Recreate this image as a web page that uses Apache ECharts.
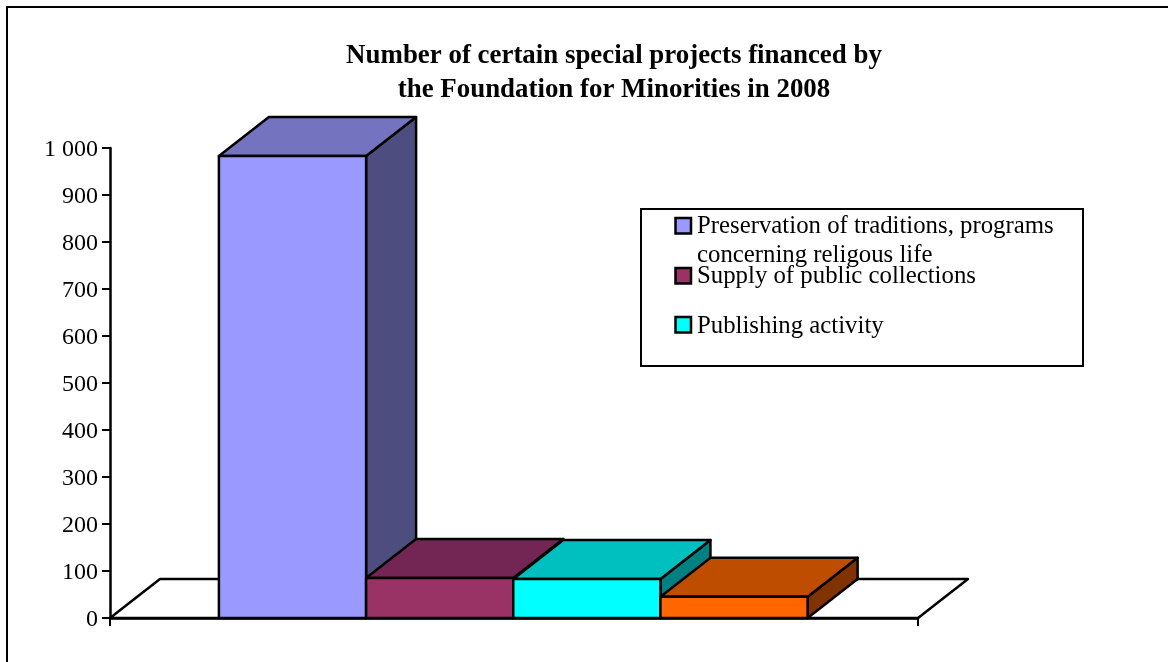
<!DOCTYPE html>
<html>
<head>
<meta charset="utf-8">
<style>html,body{margin:0;padding:0;background:#fff}#c{width:1168px;height:662px}</style>
<script src="https://cdn.jsdelivr.net/npm/echarts@6/dist/echarts.min.js"></script>
</head>
<body>
<div id="c"></div>
<script>
var titleLines = ['Number of certain special projects financed by', 'the Foundation for Minorities in 2008'];
var categories = ['Preservation of traditions, programs\nconcerning religous life', 'Supply of public collections', 'Publishing activity', 'Other'];
var values = [983, 85, 83, 45];
var frontColors = ['#9999FF', '#993366', '#00FFFF', '#FF6600'];
var topColors = ['#7373BF', '#732653', '#00BFBF', '#BF4D00'];
var sideColors = ['#4D4D80', '#4D1933', '#008080', '#803300'];
var yTickLabels = {1000: '1 000'};

var DEPTH_X = 50, DEPTH_Y = -39, START = 0.74, X_MAX = 5.49, SERIF = '"Liberation Serif","Times New Roman",serif';
var lineStyle = {stroke: '#000', lineWidth: 2.5, lineJoin: 'round'};

function poly(points, fill) {
  return {type: 'polygon', shape: {points: points}, style: Object.assign({fill: fill}, lineStyle)};
}

function renderFloor(params, api) {
  var a = api.coord([0, 0]), b = api.coord([X_MAX, 0]);
  return poly([a, b, [b[0] + DEPTH_X, b[1] + DEPTH_Y], [a[0] + DEPTH_X, a[1] + DEPTH_Y]], '#fff');
}

function renderBar(params, api) {
  var i = api.value(0), v = api.value(1);
  var p0 = api.coord([START + i, 0]), p1 = api.coord([START + i + 1, 0]);
  var t0 = api.coord([START + i, v]), t1 = api.coord([START + i + 1, v]);
  var d = function (p) { return [p[0] + DEPTH_X, p[1] + DEPTH_Y]; };
  return {type: 'group', children: [
    poly([p1, d(p1), d(t1), t1], sideColors[i]),
    poly([t0, t1, d(t1), d(t0)], topColors[i]),
    poly([p0, p1, t1, t0], frontColors[i])
  ]};
}

var series = [{type: 'custom', name: 'Floor', silent: true, renderItem: renderFloor, data: [[0, 0]], z: 1, clip: false}];
categories.forEach(function (name, i) {
  series.push({type: 'custom', name: name, silent: true, renderItem: renderBar, data: [[i, values[i]]], z: 2, clip: false,
    encode: {x: 0, y: 1}});
});

var legendGraphics = [
  {type: 'rect', shape: {x: 641, y: 209, width: 442, height: 157}, style: {fill: '#fff', stroke: '#000', lineWidth: 2}, z: 10}
];
var swatchY = [218, 268, 317], legendTextY = [226, 276, 326];
[0, 1, 2].forEach(function (i) {
  legendGraphics.push({type: 'rect', shape: {x: 675.5, y: swatchY[i], width: 15.5, height: 15.5},
    style: {fill: frontColors[i], stroke: '#000', lineWidth: 2.5}, z: 11});
  categories[i].split('\n').forEach(function (line, k) {
    legendGraphics.push({type: 'text', x: 697, y: legendTextY[i] + k * 29,
      style: {text: line, font: '24.8px ' + SERIF, fill: '#000', textVerticalAlign: 'middle', textAlign: 'left'}, z: 12});
  });
});
legendGraphics.push({type: 'rect', shape: {x: 7, y: 7, width: 1400, height: 900},
  style: {fill: 'none', stroke: '#000', lineWidth: 2}, z: 9, silent: true});

var chart = echarts.init(document.getElementById('c'), null, {renderer: 'canvas'});
chart.setOption({
  animation: false,
  backgroundColor: '#fff',
  title: {
    text: titleLines.join('\n'), left: 609, top: 34, textAlign: 'center',
    textStyle: {fontFamily: SERIF, fontWeight: 'bold', fontSize: 26.9, lineHeight: 34, color: '#000'}
  },
  grid: {left: 110, right: 250, top: 148, bottom: 44, containLabel: false},
  xAxis: {
    type: 'value', min: 0, max: X_MAX, interval: X_MAX,
    axisLine: {show: true, lineStyle: {color: '#000', width: 2.5}},
    axisTick: {show: true, length: 8, lineStyle: {color: '#000', width: 2}},
    axisLabel: {show: false}, splitLine: {show: false}
  },
  yAxis: {
    type: 'value', min: 0, max: 1000, interval: 100,
    axisLine: {show: true, lineStyle: {color: '#000', width: 2.5}},
    axisTick: {show: true, length: 8, lineStyle: {color: '#000', width: 2}},
    axisLabel: {
      color: '#000', fontFamily: SERIF, fontSize: 24, margin: 12,
      formatter: function (v) { return '{a|' + (yTickLabels[v] || String(v)) + '}'; },
      rich: {a: {color: '#000', fontFamily: SERIF, fontSize: 24, padding: [4, 0, 0, 0]}}
    },
    splitLine: {show: false}
  },
  series: series,
  graphic: legendGraphics
});
</script>
</body>
</html>
